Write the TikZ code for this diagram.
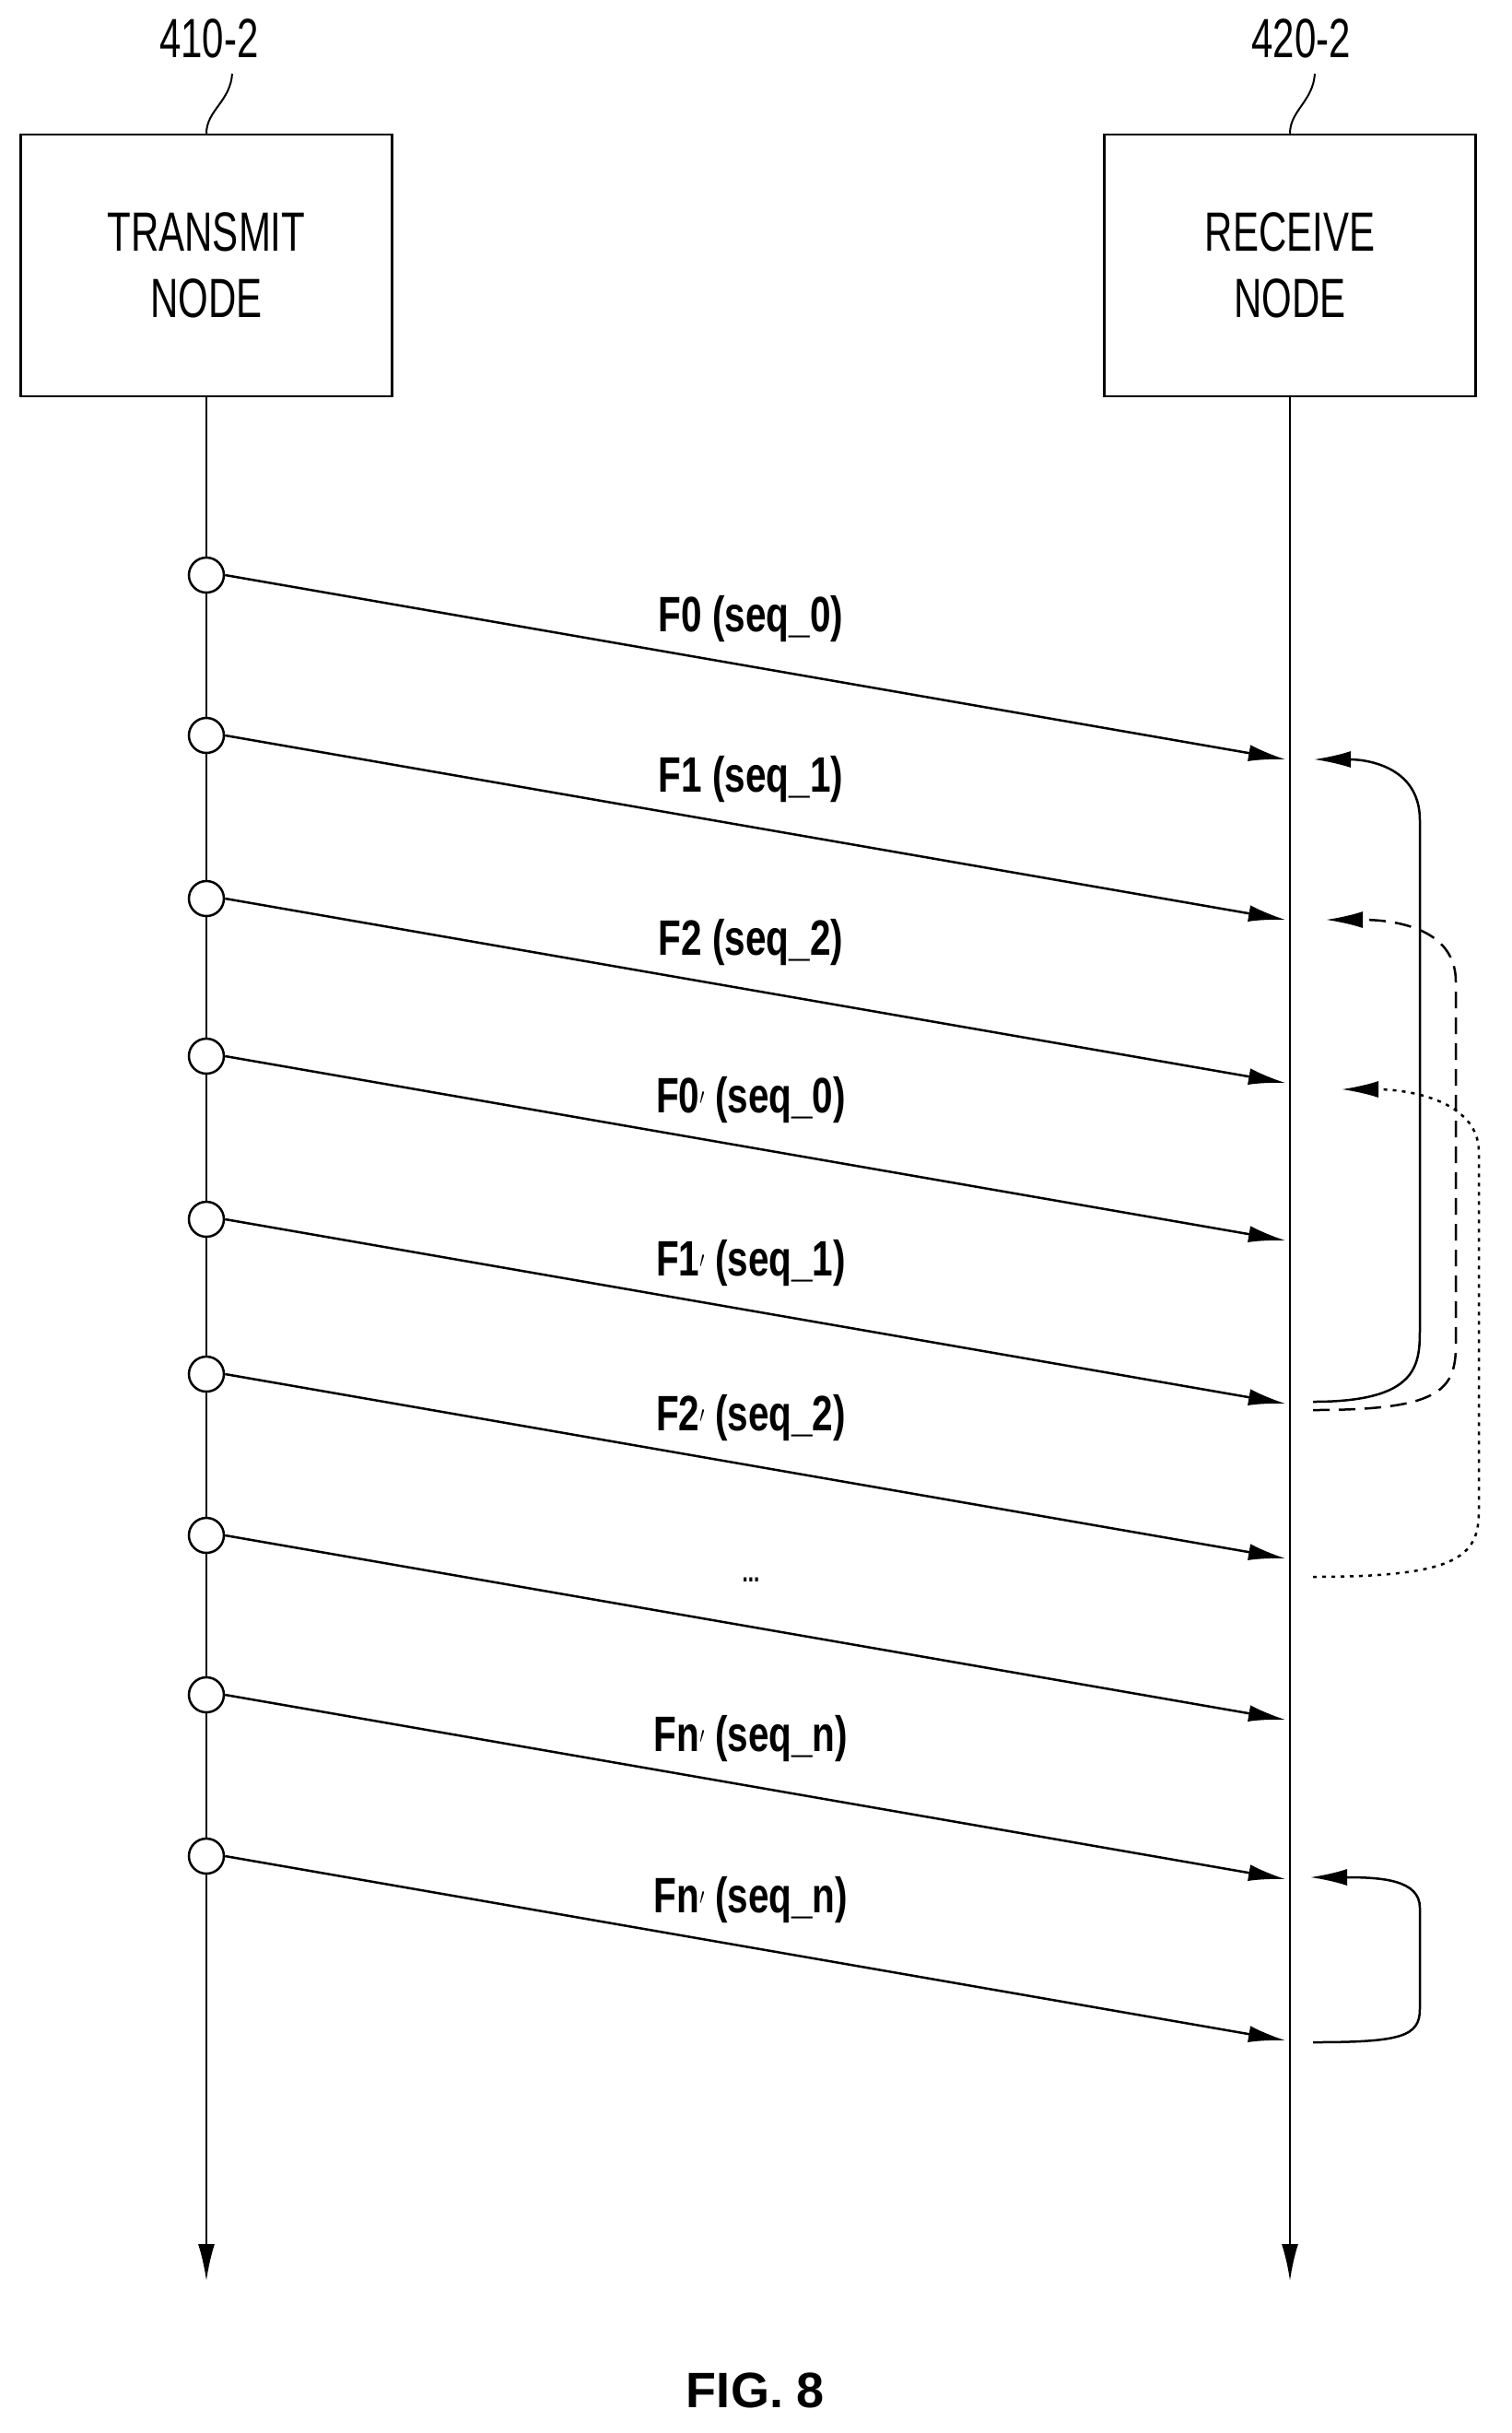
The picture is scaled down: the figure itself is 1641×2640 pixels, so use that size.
\documentclass[tikz,border=0pt]{standalone}
\usepackage{fontspec}
\setmainfont{Liberation Sans}
\usetikzlibrary{arrows.meta}
\begin{document}
\begin{tikzpicture}[x=1pt,y=-1pt,line width=2.5pt,
  tip/.style={-{Latex[length=40pt,width=18pt]}},
  box/.style={draw,minimum width=403pt,minimum height=284pt,inner sep=0pt},
  btxt/.style={font=\fontsize{60}{72}\selectfont,align=center},
  lbl/.style={font=\fontsize{54}{60}\selectfont\bfseries},
  dot/.style={circle,draw,fill=white,minimum size=38pt,inner sep=0pt}]
\useasboundingbox (0,0) rectangle (1641,2640);
\node[box] (tx) at (224,288) {};
\node[box] (rx) at (1400,288) {};
\node[btxt] at (224,288) {\scalebox{0.7}[1]{TRANSMIT}\\\scalebox{0.7}[1]{NODE}};
\node[btxt] at (1400,288) {\scalebox{0.7}[1]{RECEIVE}\\\scalebox{0.7}[1]{NODE}};
\node[btxt] (l1) at (227,42) {\scalebox{0.7}[1]{410-2}};
\node[btxt] (l2) at (1412,42) {\scalebox{0.7}[1]{420-2}};
\draw[line width=2pt] (tx.north) .. controls (224,120) and (250,110) .. (252,80);
\draw[line width=2pt] (rx.north) .. controls (1400,120) and (1425,110) .. (1427,80);
\coordinate (tb) at (224,2475);
\coordinate (rb) at (1400,2475);
\draw[tip] (tx.south) -- (tb);
\draw[tip] (rx.south) -- (rb);
\foreach \i/\y/\t in {0/624/F0 (seq\_0),1/798/F1 (seq\_1),2/975/F2 (seq\_2),3/1146/F0$'$ (seq\_0),4/1323/F1$'$ (seq\_1),5/1491/F2$'$ (seq\_2),6/1666/{\raisebox{0pt}{\fontsize{30}{30}\selectfont...}},7/1839/Fn$'$ (seq\_n),8/2014/Fn$'$ (seq\_n)}{
  \node[dot] (c\i) at (224,\y) {};
  \coordinate (e\i) at (1395,\y+200);
  \draw[tip] (c\i.east) -- (e\i);
  \node[lbl] (t\i) at (815,\y+48) {\scalebox{0.75}[1]{\t}};
}
\coordinate (s1) at (1425,1521); \coordinate (a1) at (1426,824);
\draw[tip] (s1) .. controls (1541,1521) and (1541,1480) .. (1541,1440) -- (1541,890) .. controls (1541,830) and (1480,824) .. (a1);
\coordinate (s2) at (1425,1530); \coordinate (a2) at (1439,998);
\draw[tip,dashed,dash pattern=on 18pt off 10pt] (s2) .. controls (1560,1530) and (1580,1510) .. (1580,1460) -- (1580,1065) .. controls (1580,1010) and (1520,998) .. (a2);
\coordinate (s3) at (1425,1711); \coordinate (a3) at (1456,1182);
\draw[tip,dash pattern=on 4pt off 6pt] (s3) .. controls (1580,1711) and (1605,1690) .. (1605,1640) -- (1605,1250) .. controls (1605,1195) and (1530,1182) .. (a3);
\coordinate (s4) at (1425,2216); \coordinate (a4) at (1422,2037);
\draw[tip] (s4) .. controls (1520,2216) and (1541,2210) .. (1541,2180) -- (1541,2070) .. controls (1541,2040) and (1500,2037) .. (a4);
\node[font=\fontsize{54}{60}\selectfont\bfseries] (fig) at (820,2594) {FIG. 8};
\end{tikzpicture}
\end{document}
